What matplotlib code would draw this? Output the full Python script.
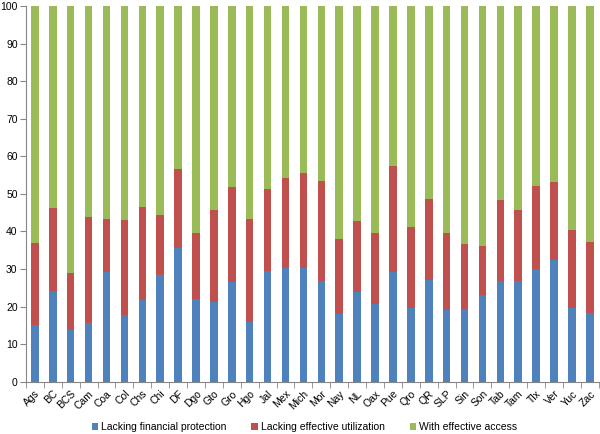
import numpy as np
import matplotlib
matplotlib.use("Agg")
import matplotlib.pyplot as plt

states = ["Ags", "BC", "BCS", "Cam", "Coa", "Col", "Chs", "Chi", "DF", "Dgo",
          "Gto", "Gro", "Hgo", "Jal", "Mex", "Mich", "Mor", "Nay", "NL", "Oax",
          "Pue", "Qro", "QR", "SLP", "Sin", "Son", "Tab", "Tam", "Tlx", "Ver",
          "Yuc", "Zac"]

# lacking financial protection (%)
no_protection = np.array([15.1, 24.1, 13.8, 15.7, 29.3, 17.7, 21.8, 28.3, 35.6, 22.0,
                          21.3, 26.6, 15.9, 29.5, 30.4, 30.3, 26.8, 18.1, 23.9, 20.7,
                          29.3, 19.5, 27.2, 19.2, 19.4, 23.0, 26.8, 26.8, 29.9, 32.3,
                          19.5, 18.2])
# lacking effective utilization (%)
no_utilization = np.array([21.7, 22.2, 15.2, 28.2, 13.9, 25.3, 24.7, 16.1, 20.9, 17.6,
                           24.4, 25.2, 27.4, 21.7, 23.8, 25.2, 26.6, 19.9, 19.0, 18.9,
                           28.1, 21.6, 21.4, 20.5, 17.2, 13.2, 21.7, 18.9, 22.3, 20.9,
                           20.8, 19.0])
# with effective access (%)
effective = 100 - no_protection - no_utilization

plt.rcParams["font.family"] = ["Liberation Sans", "DejaVu Sans"]

fig = plt.figure(figsize=(6, 4.34), dpi=100)
ax = fig.add_axes([0.0433, 0.1205, 0.9547, 0.8655])

x = np.arange(len(states))
w = 0.42
ax.bar(x, no_protection, w, color="#4F81BD", label="Lacking financial protection")
ax.bar(x, no_utilization, w, bottom=no_protection, color="#C0504D",
       label="Lacking effective utilization")
ax.bar(x, effective, w, bottom=no_protection + no_utilization, color="#9BBB59",
       label="With effective access")

ax.set_xlim(-0.5, len(states) - 0.5)
ax.set_ylim(0, 100)
ax.set_yticks(range(0, 101, 10))

ax.set_xticks(x)
ax.set_xticklabels(states, rotation=45, ha="right", rotation_mode="anchor")
ax.set_xticks(np.arange(-0.5, len(states)), minor=True)
ax.tick_params(axis="x", which="major", length=0, pad=5, labelsize=7.5)
ax.tick_params(axis="x", which="minor", length=4, color="#868686")
ax.tick_params(axis="y", length=4, color="#868686", labelsize=7.5, pad=2)

for s in ["top", "right"]:
    ax.spines[s].set_visible(False)
for s in ["left", "bottom"]:
    ax.spines[s].set_color("#868686")
    ax.spines[s].set_linewidth(0.8)

ax.legend(loc="center", bbox_to_anchor=(0.486, -0.121), ncol=3, frameon=False,
          fontsize=7.5, handlelength=0.6, handleheight=0.6, handletextpad=0.3,
          columnspacing=2.4, borderpad=0.2)

fig.savefig("out.png", dpi=100)
